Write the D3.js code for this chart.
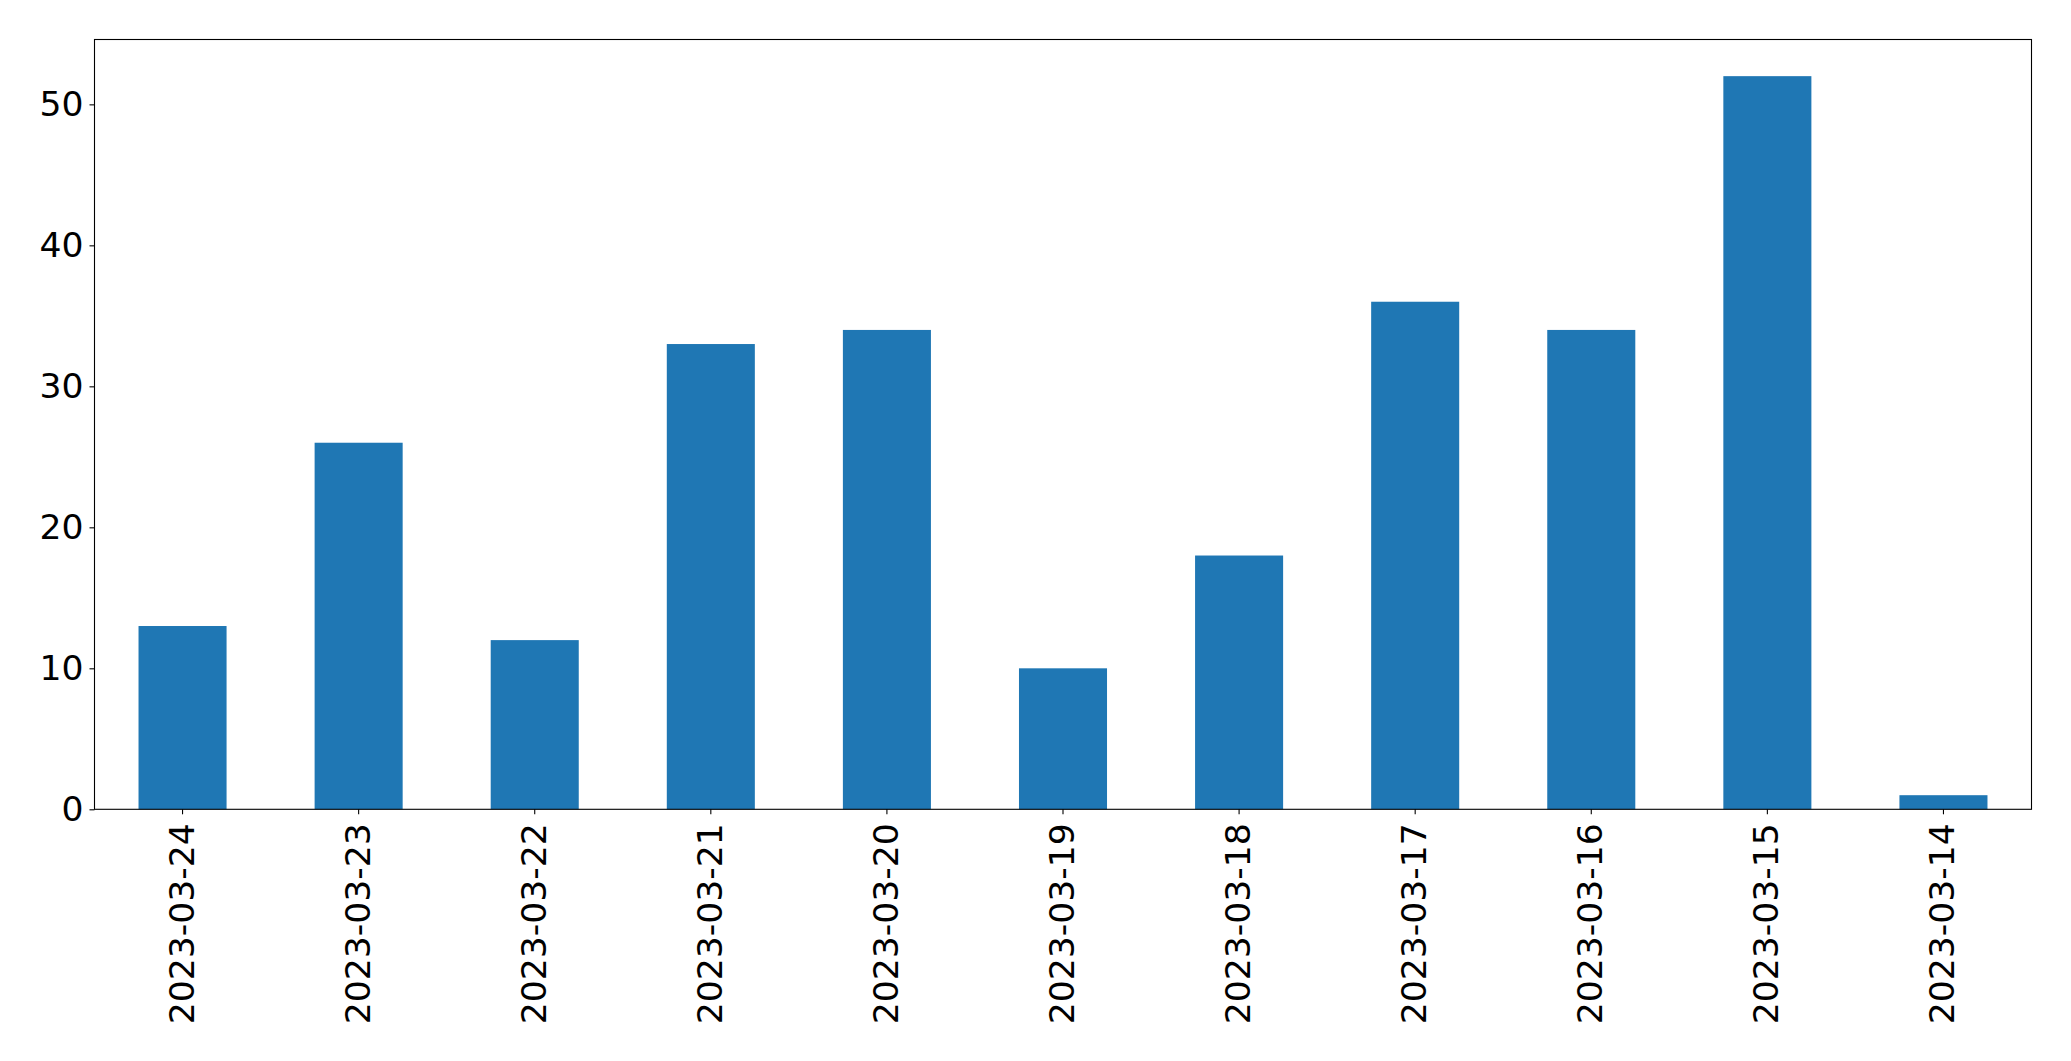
<!DOCTYPE html>
<html>
<head>
<meta charset="utf-8">
<script src="https://cdn.jsdelivr.net/npm/d3@7"></script>
<style>
  html, body { margin: 0; padding: 0; background: #fff; }
  svg { display: block; }
  text { font-family: "DejaVu Sans", sans-serif; fill: #000; }
</style>
</head>
<body>
<svg id="chart" width="2071" height="1061"></svg>
<script>
const categories = ["2023-03-24","2023-03-23","2023-03-22","2023-03-21","2023-03-20","2023-03-19","2023-03-18","2023-03-17","2023-03-16","2023-03-15","2023-03-14"];
const values = [13, 26, 12, 33, 34, 10, 18, 36, 34, 52, 1];
const yTicks = [0, 10, 20, 30, 40, 50];

const W = 2071, H = 1061;
const margin = { left: 94.5, right: W - 2031.5, top: 39.5, bottom: H - 809.3 };
const svg = d3.select("#chart");
const iw = W - margin.left - margin.right;
const ih = H - margin.top - margin.bottom;
const g = svg.append("g").attr("transform", `translate(${margin.left},${margin.top})`);

const x = d3.scaleBand().domain(categories).range([0, iw]).paddingInner(0.5).paddingOuter(0.25);
const y = d3.scaleLinear().domain([0, d3.max(values) * 1.05]).range([ih, 0]);

g.selectAll("rect.bar").data(values).enter().append("rect")
  .attr("class", "bar")
  .attr("x", (d, i) => x(categories[i]))
  .attr("width", x.bandwidth())
  .attr("y", d => y(d))
  .attr("height", d => ih - y(d))
  .attr("fill", "#1f77b4");

const fs = 34.6;
const yAxis = g.append("g").call(d3.axisLeft(y).tickValues(yTicks).tickSize(5).tickPadding(6).tickFormat(d3.format("d")));
yAxis.select(".domain").remove();
yAxis.selectAll("line").attr("stroke", "#000").attr("stroke-width", 1.1);
yAxis.selectAll("text").style("font-size", fs + "px").attr("fill", "#000");

const xAxis = g.append("g").attr("transform", `translate(0,${ih})`).call(d3.axisBottom(x).tickSize(5).tickPadding(0));
xAxis.select(".domain").remove();
xAxis.selectAll("line").attr("stroke", "#000").attr("stroke-width", 1.1);
xAxis.selectAll("text")
  .style("font-size", fs + "px")
  .attr("fill", "#000")
  .attr("text-anchor", "end")
  .attr("dy", null)
  .attr("y", 0)
  .attr("transform", "translate(-1,14) rotate(-90)")
  .attr("dominant-baseline", "central");

g.append("rect").attr("x", 0).attr("y", 0).attr("width", iw).attr("height", ih)
  .attr("fill", "none").attr("stroke", "#000").attr("stroke-width", 1.1);
</script>
</body>
</html>
